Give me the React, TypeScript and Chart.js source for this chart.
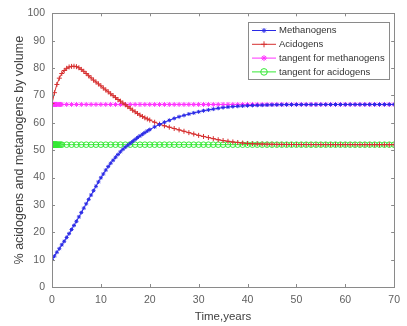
import React, { useEffect, useRef } from "react";
import { Chart, registerables } from "chart.js";
import { drawPoint } from "chart.js/helpers";

Chart.register(...registerables);

const years = [
  0, 0.5, 1, 1.5, 2, 2.5, 3, 3.5, 4, 4.5, 5, 5.5, 6, 6.5, 7, 7.5, 8, 8.5, 9, 9.5, 10,
  10.5, 11, 11.5, 12, 12.5, 13, 13.5, 14, 14.5, 15, 15.5, 16, 16.5, 17, 17.5, 18, 18.5, 19, 19.5, 20,
  21, 22, 23, 24, 25, 26, 27, 28, 29, 30, 31, 32, 33, 34, 35, 36, 37, 38, 39, 40,
  41, 42, 43, 44, 45, 46, 47, 48, 49, 50, 51, 52, 53, 54, 55, 56, 57, 58, 59, 60,
  61, 62, 63, 64, 65, 66, 67, 68, 69, 70,
];

const methanogens = [
  10, 11.3, 12.7, 14.0, 15.4, 16.7, 18.1, 19.5, 21.0, 22.5, 24.0, 25.6, 27.2, 28.8, 30.4, 32.0, 33.6, 35.2, 36.8, 38.4, 39.9,
  41.3, 42.7, 44.0, 45.2, 46.3, 47.4, 48.4, 49.4, 50.3, 51.1, 51.8, 52.5, 53.2, 53.9, 54.6, 55.2, 55.8, 56.4, 57.0, 57.5,
  58.5, 59.4, 60.2, 60.9, 61.6, 62.2, 62.7, 63.2, 63.6, 64.0,
  64.4, 64.7, 65.0, 65.3, 65.55, 65.75, 65.9, 66.05, 66.15, 66.25,
  66.35, 66.4, 66.45, 66.5, 66.55, 66.58, 66.6, 66.62, 66.63, 66.64,
  66.65, 66.65, 66.66, 66.66, 66.67, 66.67, 66.67, 66.68, 66.68, 66.68,
  66.69, 66.69, 66.69, 66.69, 66.7, 66.7, 66.7, 66.7, 66.7, 66.7,
];

const acidogens = [
  67, 71.0, 74.0, 76.3, 78.0, 79.1, 79.9, 80.4, 80.6, 80.65, 80.5, 80.1, 79.5, 78.8, 78.0, 77.2, 76.4, 75.6, 74.9, 74.2, 73.5,
  72.7, 72.0, 71.3, 70.6, 69.9, 69.2, 68.5, 67.9, 67.2, 66.6, 65.9, 65.3, 64.6, 64.0, 63.4, 62.8, 62.3, 61.8, 61.4, 61.0,
  60.2, 59.5, 58.9, 58.4, 57.9, 57.4, 56.9, 56.4, 55.9, 55.4,
  55.0, 54.6, 54.2, 53.8, 53.5, 53.25, 53.0, 52.8, 52.6, 52.45,
  52.35, 52.3, 52.25, 52.2, 52.15, 52.1, 52.1, 52.08, 52.07, 52.06,
  52.05, 52.05, 52.04, 52.04, 52.03, 52.03, 52.03, 52.02, 52.02, 52.02,
  52.02, 52.01, 52.01, 52.01, 52.01, 52.0, 52.0, 52.0, 52.0, 52.0,
];

const tangentYears = [
  0, 0.1, 0.2, 0.3, 0.4, 0.5, 0.6, 0.7, 0.8, 0.9, 1, 1.25, 1.5, 1.75, 2,
  3, 4, 5, 6, 7, 8, 9, 10, 11, 12, 13, 14, 15, 16, 17, 18, 19, 20,
  21, 22, 23, 24, 25, 26, 27, 28, 29, 30, 31, 32, 33, 34, 35, 36, 37, 38, 39, 40,
  41, 42, 43, 44, 45, 46, 47, 48, 49, 50, 51, 52, 53, 54, 55, 56, 57, 58, 59, 60,
  61, 62, 63, 64, 65, 66, 67, 68, 69, 70,
];

const tangentMethanogens = [
  66.7, 66.7, 66.7, 66.7, 66.7, 66.7, 66.7, 66.7, 66.7, 66.7, 66.7, 66.7, 66.7, 66.7, 66.7,
  66.7, 66.7, 66.7, 66.7, 66.7, 66.7, 66.7, 66.7, 66.7, 66.7, 66.7, 66.7, 66.7, 66.7, 66.7, 66.7, 66.7, 66.7,
  66.7, 66.7, 66.7, 66.7, 66.7, 66.7, 66.7, 66.7, 66.7, 66.7, 66.7, 66.7, 66.7, 66.7, 66.7, 66.7, 66.7, 66.7, 66.7, 66.7,
  66.7, 66.7, 66.7, 66.7, 66.7, 66.7, 66.7, 66.7, 66.7, 66.7, 66.7, 66.7, 66.7, 66.7, 66.7, 66.7, 66.7, 66.7, 66.7, 66.7,
  66.7, 66.7, 66.7, 66.7, 66.7, 66.7, 66.7, 66.7, 66.7, 66.7,
];

const tangentAcidogens = [
  52, 52, 52, 52, 52, 52, 52, 52, 52, 52, 52, 52, 52, 52, 52,
  52, 52, 52, 52, 52, 52, 52, 52, 52, 52, 52, 52, 52, 52, 52, 52, 52, 52,
  52, 52, 52, 52, 52, 52, 52, 52, 52, 52, 52, 52, 52, 52, 52, 52, 52, 52, 52, 52,
  52, 52, 52, 52, 52, 52, 52, 52, 52, 52, 52, 52, 52, 52, 52, 52, 52, 52, 52, 52,
  52, 52, 52, 52, 52, 52, 52, 52, 52, 52,
];

const seriesLabels = [
  "Methanogens",
  "Acidogens",
  "tangent for methanogens",
  "tangent for acidogens",
];

const xTitle = "Time,years";
const yTitle = "% acidogens and metanogens by volume";

const FONT = "'Liberation Sans', Arial, sans-serif";

const framePlugin = {
  id: "frameTicks",
  afterDatasetsDraw(chart: any) {
    const { ctx, chartArea: a, scales } = chart;
    ctx.save();
    ctx.strokeStyle = "#8a8a8a";
    ctx.lineWidth = 1;
    ctx.strokeRect(Math.round(a.left) + 0.5, Math.round(a.top) + 0.5, Math.round(a.right - a.left), Math.round(a.bottom - a.top));
    const tl = 3;
    ctx.beginPath();
    scales.x.ticks.forEach((t: any) => {
      const px = Math.round(scales.x.getPixelForValue(t.value)) + 0.5;
      ctx.moveTo(px, a.bottom);
      ctx.lineTo(px, a.bottom - tl);
      ctx.moveTo(px, a.top);
      ctx.lineTo(px, a.top + tl);
    });
    scales.y.ticks.forEach((t: any) => {
      const py = Math.round(scales.y.getPixelForValue(t.value)) + 0.5;
      ctx.moveTo(a.left, py);
      ctx.lineTo(a.left + tl, py);
      ctx.moveTo(a.right, py);
      ctx.lineTo(a.right - tl, py);
    });
    ctx.stroke();
    ctx.restore();
  },
  afterDraw(chart: any) {
    const { ctx } = chart;
    const bx = 248, by = 22, bw = 141, bh = 57;
    ctx.save();
    ctx.fillStyle = "#ffffff";
    ctx.fillRect(bx, by, bw, bh);
    ctx.strokeStyle = "#8a8a8a";
    ctx.lineWidth = 1;
    ctx.strokeRect(bx + 0.5, by + 0.5, bw, bh);
    ctx.font = `9.5px ${FONT}`;
    ctx.textBaseline = "middle";
    chart.data.datasets.forEach((ds: any, i: number) => {
      const y = by + 8.5 + i * 13.8;
      ctx.strokeStyle = ds.borderColor;
      ctx.lineWidth = 1;
      ctx.beginPath();
      ctx.moveTo(bx + 4, y);
      ctx.lineTo(bx + 28, y);
      ctx.stroke();
      ctx.strokeStyle = ds.pointBorderColor;
      ctx.fillStyle = "rgba(0,0,0,0)";
      drawPoint(ctx, { pointStyle: ds.pointStyle, radius: ds.pointRadius + 0.5, rotation: 0, borderWidth: 1 }, bx + 16, y);
      ctx.fillStyle = "#333333";
      ctx.fillText(ds.label, bx + 31, y);
    });
    ctx.restore();
  },
};

export default function App() {
  const canvasRef = useRef<HTMLCanvasElement | null>(null);

  useEffect(() => {
    const canvas = canvasRef.current;
    if (!canvas) return;
    const mk = (xs: number[], ys: number[]) => xs.map((x, i) => ({ x, y: ys[i] }));
    const chart = new Chart(canvas, {
      type: "scatter",
      data: {
        datasets: [
          {
            label: seriesLabels[0],
            data: mk(years, methanogens),
            showLine: true,
            borderColor: "#2a2ae6",
            pointBorderColor: "#2a2ae6",
            backgroundColor: "rgba(0,0,0,0)",
            borderWidth: 1,
            pointStyle: "star",
            pointRadius: 2,
            pointBorderWidth: 1,
          },
          {
            label: seriesLabels[1],
            data: mk(years, acidogens),
            showLine: true,
            borderColor: "#d63030",
            pointBorderColor: "#d63030",
            backgroundColor: "rgba(0,0,0,0)",
            borderWidth: 1,
            pointStyle: "cross",
            pointRadius: 2.5,
            pointBorderWidth: 1,
          },
          {
            label: seriesLabels[2],
            data: mk(tangentYears, tangentMethanogens),
            showLine: true,
            borderColor: "#ff33ff",
            pointBorderColor: "#ff33ff",
            backgroundColor: "rgba(0,0,0,0)",
            borderWidth: 1,
            pointStyle: "star",
            pointRadius: 2.5,
            pointBorderWidth: 1,
          },
          {
            label: seriesLabels[3],
            data: mk(tangentYears, tangentAcidogens),
            showLine: true,
            borderColor: "#33e833",
            pointBorderColor: "#33e833",
            backgroundColor: "rgba(0,0,0,0)",
            borderWidth: 1,
            pointStyle: "circle",
            pointRadius: 2.8,
            pointBorderWidth: 1,
          },
        ],
      },
      options: {
        animation: false,
        responsive: false,
        maintainAspectRatio: false,
        layout: { padding: { top: 13, right: 9, left: 0, bottom: 0 } },
        plugins: {
          legend: { display: false },
          tooltip: { enabled: false },
        },
        scales: {
          x: {
            type: "linear",
            min: 0,
            max: 70,
            grid: { display: false, drawTicks: false },
            border: { display: false },
            ticks: {
              stepSize: 10,
              padding: 7,
              color: "#606060",
              font: { family: FONT, size: 10.5 },
              maxRotation: 0,
            },
            title: {
              display: true,
              text: xTitle,
              color: "#404040",
              font: { family: FONT, size: 11.5 },
              padding: { top: 0, bottom: 2 },
            },
            afterFit: (s: any) => {
              s.height = 39;
            },
          },
          y: {
            type: "linear",
            min: 0,
            max: 100,
            grid: { display: false, drawTicks: false },
            border: { display: false },
            ticks: {
              stepSize: 10,
              padding: 7,
              color: "#606060",
              font: { family: FONT, size: 10.5 },
            },
            title: {
              display: true,
              text: yTitle,
              color: "#404040",
              font: { family: FONT, size: 12.5 },
              padding: { top: 12, bottom: 0 },
            },
            afterFit: (s: any) => {
              s.width = 52;
            },
          },
        },
      },
      plugins: [framePlugin],
    });
    return () => chart.destroy();
  }, []);

  return (
    <div style={{ position: "absolute", left: 0, top: 0, width: 407, height: 326, background: "#fff" }}>
      <canvas ref={canvasRef} width={407} height={326} style={{ width: 407, height: 326, display: "block" }} />
    </div>
  );
}
